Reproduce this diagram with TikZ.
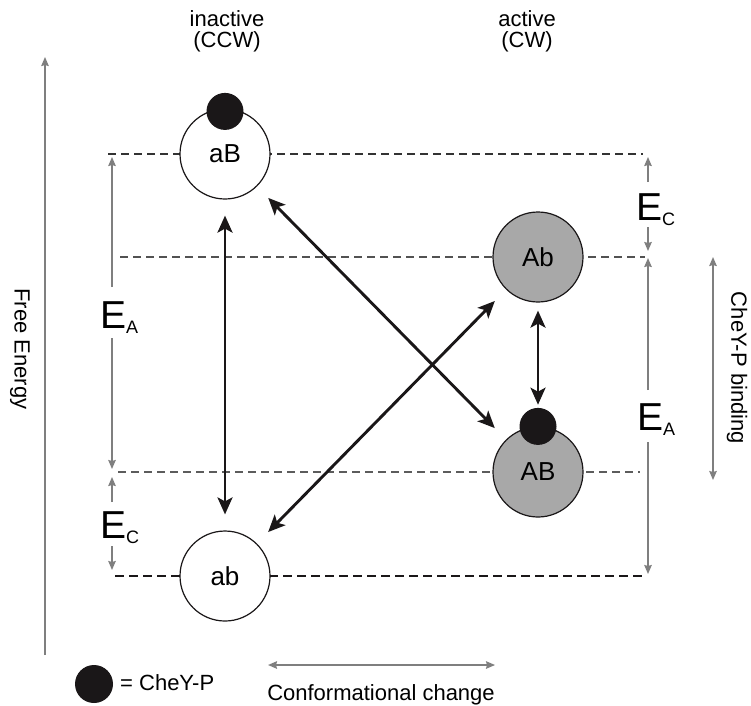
\documentclass[tikz,border=0pt]{standalone}
\usepackage{fontspec}
\setmainfont{Liberation Sans}
\usetikzlibrary{arrows.meta}
\definecolor{ggray}{HTML}{7F7F7F}
\definecolor{cfill}{HTML}{A8A8A8}
\definecolor{dotc}{HTML}{1A1718}
\definecolor{lvl}{HTML}{333333}
\newcommand{\Elab}[1]{{\fontsize{39}{39}\selectfont E}\raisebox{-5pt}{\fontsize{18}{18}\selectfont #1}}
\begin{document}
\begin{tikzpicture}[x=1pt,y=-1pt,
  state/.style={circle, draw=dotc, line width=1.2pt, minimum size=90pt, inner sep=0pt, font=\fontsize{26}{26}\selectfont},
  inact/.style={state, fill=white},
  act/.style={state, fill=cfill},
  ligand/.style={circle, fill=dotc, minimum size=37pt, inner sep=0pt},
  bigtip/.tip={Stealth[length=17pt,width=15pt,inset=4pt]},
  smalltip/.tip={Stealth[length=9pt,width=7.5pt,inset=1pt]},
  big/.style={line width=2.9pt, draw=dotc, bigtip-bigtip, shorten >=16pt, shorten <=16pt},
  garrow/.style={line width=1.5pt, draw=ggray, -smalltip},
  gdbl/.style={line width=1.5pt, draw=ggray, smalltip-smalltip},
  level/.style={dash pattern=on 8pt off 5pt, line width=1.4pt, draw=lvl},
  lab/.style={font=\fontsize{22}{21}\selectfont, align=center, inner sep=0pt},
  elab/.style={anchor=base west, inner sep=0pt},
]
\useasboundingbox (0,0) rectangle (751,705);

% energy levels
\coordinate (L1a) at (108,154); \coordinate (L1b) at (643,154);
\coordinate (L2a) at (120,257); \coordinate (L2b) at (645,257);
\coordinate (L3a) at (118,472); \coordinate (L3b) at (640,472);
\coordinate (L4a) at (115,576); \coordinate (L4b) at (645,576);
\draw[level] (L1a) -- (L1b);
\draw[level, draw=lvl!85] (L2a) -- (L2b);
\draw[level, draw=lvl!80] (L3a) -- (L3b);
\draw[level, line width=2.1pt, draw=dotc, dash pattern=on 9pt off 5pt] (L4a) -- (L4b);

% headers
\node[lab] (hin) at (227,31) {inactive\\(CCW)};
\node[lab] (hac) at (527,31) {active\\(CW)};

% states
\node[inact] (aB) at (225,154) {aB};
\node[inact] (ab) at (225,576) {ab};
\node[act] (Ab) at (538,257) {Ab};
\node[act] (AB) at (538,472) {AB};
\node[ligand] (daB) at ([yshift=-3pt]aB.north) {};
\node[ligand] (dAB) at (AB.north) {};

% transitions
\draw[big] (aB) -- (ab);
\draw[big] (aB) -- (AB);
\draw[big] (Ab) -- (ab);
\draw[big, shorten <=8pt, shorten >=3pt] (Ab) -- (dAB);

% free energy axis
\coordinate (fe0) at (45,655); \coordinate (fe1) at (45,57);
\draw[garrow] (fe0) -- (fe1);
\node[lab, rotate=-90] (fe) at (20,349) {Free Energy};

% left energy gaps
\node[elab] (lEA) at (100,328) {\Elab{A}};
\coordinate (lA1) at (112,287); \coordinate (lA1t) at (112,157);
\coordinate (lA2) at (112,338); \coordinate (lA2t) at (112,469);
\draw[garrow] (lA1) -- (lA1t);
\draw[garrow] (lA2) -- (lA2t);
\node[elab] (lEC) at (100,538) {\Elab{C}};
\coordinate (lC1) at (112,502); \coordinate (lC1t) at (112,477);
\coordinate (lC2) at (112,546); \coordinate (lC2t) at (112,570);
\draw[garrow] (lC1) -- (lC1t);
\draw[garrow] (lC2) -- (lC2t);

% right energy gaps
\node[elab] (rEC) at (636,220) {\Elab{C}};
\coordinate (rC1) at (648,182); \coordinate (rC1t) at (648,157);
\coordinate (rC2) at (648,227); \coordinate (rC2t) at (648,251);
\draw[garrow] (rC1) -- (rC1t);
\draw[garrow] (rC2) -- (rC2t);
\node[elab] (rEA) at (637,430) {\Elab{A}};
\coordinate (rA1) at (648,390); \coordinate (rA1t) at (648,258);
\coordinate (rA2) at (648,442); \coordinate (rA2t) at (648,574);
\draw[garrow] (rA1) -- (rA1t);
\draw[garrow] (rA2) -- (rA2t);

% CheY-P binding
\coordinate (cb0) at (713,257); \coordinate (cb1) at (713,480);
\draw[gdbl] (cb0) -- (cb1);
\node[lab, rotate=-90] (cbl) at (737,368) {CheY-P binding};

% legend
\node[ligand, minimum size=38pt] (key) at (94,684) {};
\node[lab, anchor=west] (keyt) at (120,683) {= CheY-P};
\coordinate (cc0) at (268,665); \coordinate (cc1) at (495,665);
\draw[gdbl] (cc0) -- (cc1);
\node[lab, anchor=base] (cct) at (381,700) {Conformational change};
\end{tikzpicture}
\end{document}
